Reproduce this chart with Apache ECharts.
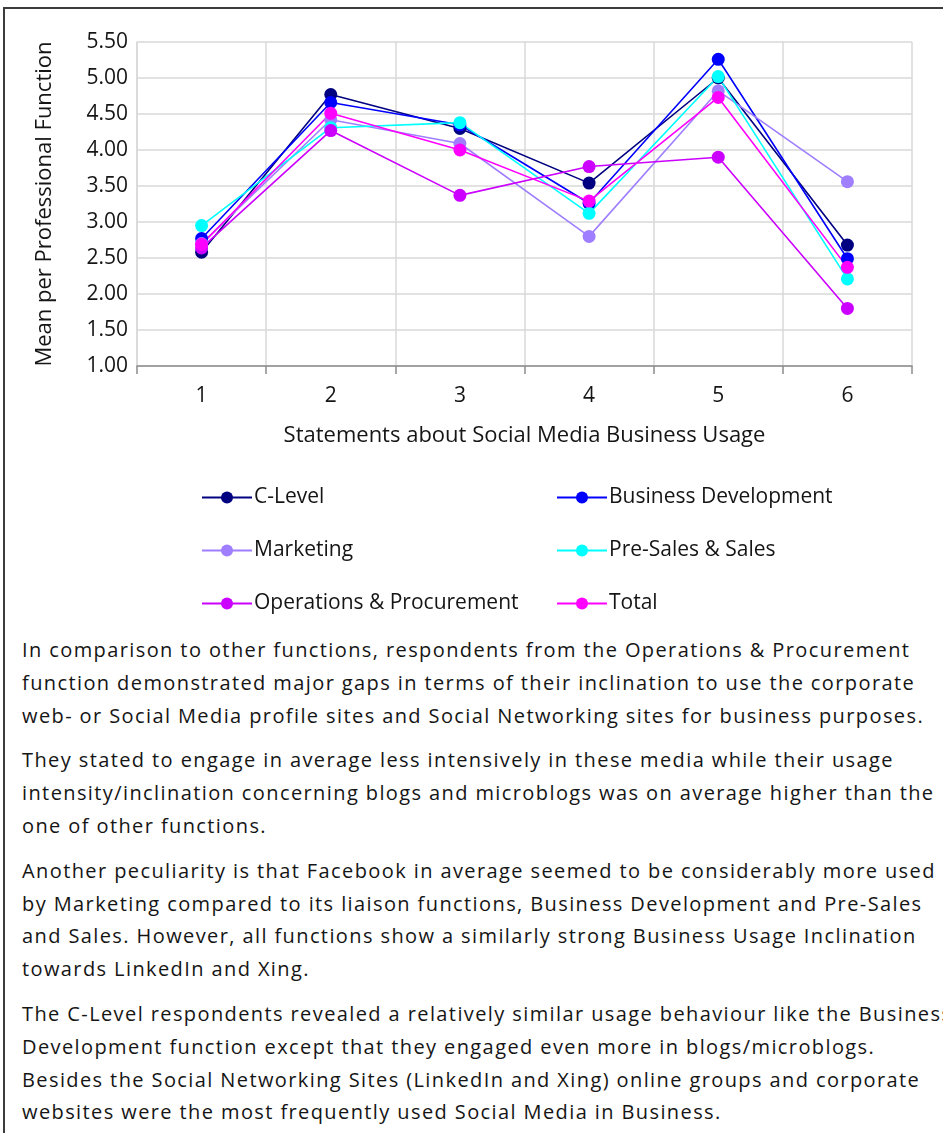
<!DOCTYPE html>
<html>
<head>
<meta charset="utf-8">
<script src="https://cdn.jsdelivr.net/npm/echarts@6/dist/echarts.min.js"></script>
<style>
  html, body { margin: 0; padding: 0; background: #fff; overflow: hidden; }
  body { width: 943px; height: 1133px; position: relative; }
  #frame { position: absolute; left: 3px; top: 7px; width: 960px; height: 1140px;
           border-left: 2px solid #3c3c3c; border-top: 2px solid #3c3c3c; box-sizing: border-box; }
  #chart { position: absolute; left: 0; top: 0; width: 943px; height: 630px; }
  #notes { position: absolute; left: 22px; top: 634px; width: 960px;
           font-family: "Open Sans", sans-serif; font-size: 20px; letter-spacing: 1.4px; color: #151515; }
  #notes p { margin: 0 0 12px 0; line-height: 32.8px; white-space: nowrap; }
</style>
</head>
<body>
<div id="frame"></div>
<div id="chart"></div>
<div id="notes">
  <p>In comparison to other functions, respondents from the Operations &amp; Procurement<br>function demonstrated major gaps in terms of their inclination to use the corporate<br>web- or Social Media profile sites and Social Networking sites for business purposes.</p>
  <p>They stated to engage in average less intensively in these media while their usage<br>intensity/inclination concerning blogs and microblogs was on average higher than the<br>one of other functions.</p>
  <p>Another peculiarity is that Facebook in average seemed to be considerably more used<br>by Marketing compared to its liaison functions, Business Development and Pre-Sales<br>and Sales. However, all functions show a similarly strong Business Usage Inclination<br>towards LinkedIn and Xing.</p>
  <p>The C-Level respondents revealed a relatively similar usage behaviour like the Business<br>Development function except that they engaged even more in blogs/microblogs.<br>Besides the Social Networking Sites (LinkedIn and Xing) online groups and corporate<br>websites were the most frequently used Social Media in Business.</p>
</div>
<script>
// Statements 1-6 on the x axis
const statements = ['1', '2', '3', '4', '5', '6'];

// Mean score per professional function
const cLevel       = [2.58, 4.77, 4.30, 3.54, 5.00, 2.68];
const businessDev  = [2.77, 4.66, 4.35, 3.26, 5.26, 2.49];
const marketing    = [2.70, 4.42, 4.09, 2.80, 4.82, 3.56];
const preSales     = [2.95, 4.31, 4.38, 3.12, 5.02, 2.21];
const operations   = [2.64, 4.27, 3.37, 3.77, 3.90, 1.80];
const total        = [2.69, 4.51, 4.00, 3.29, 4.73, 2.37];

const seriesNames = ['C-Level', 'Business Development', 'Marketing',
                     'Pre-Sales & Sales', 'Operations & Procurement', 'Total'];
const seriesData = [cLevel, businessDev, marketing, preSales, operations, total];
const seriesColors = ['#000080', '#0000ff', '#9f7fff', '#00ffff', '#cc00ff', '#ff00ff'];

const font = '"Open Sans", sans-serif';
const chart = echarts.init(document.getElementById('chart'), null, { renderer: 'canvas' });

const legendCommon = {
  orient: 'vertical',
  itemWidth: 50,
  itemHeight: 15,
  itemGap: 32,
  top: 482,
  textStyle: { fontFamily: font, fontSize: 21, color: '#151515', padding: [0, 0, 0, -3] }
};

chart.setOption({
  animation: false,
  grid: { left: 137, right: 31, top: 42, bottom: 264 },
  legend: [
    Object.assign({ left: 196, data: [seriesNames[0], seriesNames[2], seriesNames[4]] }, legendCommon),
    Object.assign({ left: 551, data: [seriesNames[1], seriesNames[3], seriesNames[5]] }, legendCommon)
  ],
  xAxis: {
    type: 'category',
    data: statements,
    boundaryGap: true,
    name: 'Statements about Social Media Business Usage',
    nameLocation: 'middle',
    nameGap: 59,
    nameTextStyle: { fontFamily: font, fontSize: 22, color: '#151515' },
    axisLine: { lineStyle: { color: '#8c8c8c', width: 1.5 } },
    axisTick: { show: true, length: 8, lineStyle: { color: '#8c8c8c', width: 1.5 } },
    axisLabel: { fontFamily: font, fontSize: 21, color: '#151515', margin: 20 },
    splitLine: { show: true, lineStyle: { color: '#d9d9d9', width: 1.5 } }
  },
  yAxis: {
    type: 'value',
    min: 1,
    max: 5.5,
    interval: 0.5,
    name: 'Mean per Professional Function',
    nameLocation: 'middle',
    nameGap: 81,
    nameTextStyle: { fontFamily: font, fontSize: 22, color: '#151515' },
    axisLine: { show: true, lineStyle: { color: '#d9d9d9', width: 1.5 } },
    axisTick: { show: false },
    axisLabel: { fontFamily: font, fontSize: 21, color: '#151515', margin: 9,
                 formatter: v => v.toFixed(2) },
    splitLine: { show: true, lineStyle: { color: '#d9d9d9', width: 1.5 } }
  },
  series: seriesNames.map((name, i) => ({
    name,
    type: 'line',
    data: seriesData[i],
    symbol: 'circle',
    symbolSize: 13,
    color: seriesColors[i],
    lineStyle: { width: 1.6, color: seriesColors[i] },
    itemStyle: { color: seriesColors[i] }
  }))
});
</script>
</body>
</html>
